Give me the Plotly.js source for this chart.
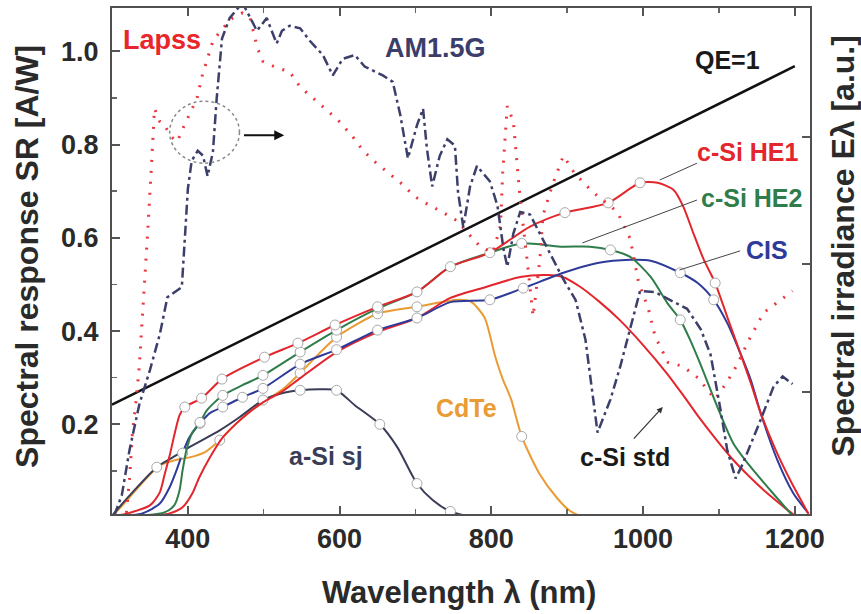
<!DOCTYPE html>
<html><head><meta charset="utf-8">
<script src="https://cdn.plot.ly/plotly-3.0.1.min.js"></script>
<style>html,body{margin:0;padding:0;background:#fff}#chart{width:861px;height:614px}</style>
</head><body><div id="chart"></div>
<script>
// ---- AM1.5G spectrum (a.u., right axis)
const amX = [303,313,323,336,350,363,373,392,396,400,405,413,420,426,433,438,445,455,472,482,491,504,517,524,534,548,561,578,591,604,620,633,657,670,680,690,702,710,715,722,732,742,752,756,763,772,781,798,808,816,821,829,838,851,864,878,895,911,924,940,957,970,983,996,1016,1036,1058,1076,1089,1102,1111,1122,1131,1155,1172,1184,1197];
const amY = [0.03,0.19,0.54,0.90,1.17,1.45,1.74,1.82,2.20,2.59,2.81,2.89,2.85,2.69,2.88,3.30,3.77,3.93,4.05,3.93,3.83,3.93,3.73,3.83,3.87,3.85,3.75,3.64,3.48,3.61,3.64,3.55,3.48,3.43,3.17,2.83,3.09,3.22,2.91,2.61,2.85,2.98,2.93,2.57,2.29,2.61,2.77,2.65,2.46,2.12,1.98,2.24,2.41,2.39,2.24,2.08,1.88,1.72,1.41,0.68,0.94,1.20,1.49,1.79,1.78,1.72,1.65,1.49,1.29,0.86,0.54,0.32,0.43,0.78,1.04,1.12,1.06];
// ---- Lapss spectrum (a.u., right axis)
const lapX = [319,323,327,332,336,340,343,347,352,356,363,369,376,386,393,402,412,419,426,433,446,459,472,482,492,499,517,534,548,563,581,598,616,631,647,664,682,699,716,735,755,768,785,802,812,815,821,829,833,838,847,855,864,868,881,895,910,933,966,983,994,1007,1016,1033,1052,1072,1095,1111,1124,1138,1159,1179,1197];
const lapY = [0.05,0.31,0.68,0.94,1.20,1.57,1.80,2.25,2.77,3.22,3.12,3.10,3.01,2.96,3.06,3.17,3.30,3.48,3.61,3.75,3.85,3.93,3.97,3.93,3.69,3.59,3.54,3.51,3.39,3.31,3.22,3.13,3.01,2.89,2.80,2.72,2.63,2.53,2.47,2.41,2.34,2.25,2.14,2.09,2.30,2.72,3.24,3.12,2.83,2.51,2.04,1.59,2.04,2.38,2.63,2.85,2.71,2.57,2.41,2.20,1.86,1.65,1.43,1.23,1.20,1.11,0.94,1.08,1.21,1.39,1.62,1.71,1.79];
// ---- QE = 1 line
const qeX = [300, 1200];
const qeY = [0.242, 0.968];
// ---- c-Si HE1
const he1X = [300,323,350,363,369,376,383,389,396,418,445,501,545,594,650,702,746,798,851,897,954,996,1019,1040,1053,1066,1080,1095,1111,1128,1142,1155,1175,1194,1218];
const he1Y = [0.002,0.010,0.026,0.054,0.090,0.133,0.183,0.219,0.237,0.256,0.297,0.344,0.374,0.413,0.452,0.484,0.538,0.568,0.624,0.654,0.675,0.718,0.718,0.703,0.667,0.611,0.553,0.503,0.430,0.353,0.288,0.224,0.144,0.080,0.008];
const he1C = [0,0,0,0,0,0,0,0,1,1,1,1,1,1,1,1,1,1,0,1,1,1,0,0,0,0,0,1,0,0,0,0,0,0,0];
// ---- c-Si HE2
const he2X = [300,336,369,382,389,393,398,406,416,425,446,472,499,548,596,651,702,746,798,840,891,930,957,983,1010,1032,1049,1062,1075,1098,1119,1142,1168,1197];
const he2Y = [0.002,0.004,0.011,0.026,0.058,0.101,0.144,0.183,0.204,0.230,0.262,0.284,0.305,0.355,0.402,0.449,0.484,0.538,0.568,0.588,0.581,0.581,0.574,0.559,0.516,0.460,0.424,0.381,0.331,0.237,0.159,0.108,0.058,0.004];
const he2C = [0,0,0,0,0,0,0,0,1,0,1,0,1,1,1,1,0,0,0,1,0,0,1,0,0,0,1,0,0,0,0,0,0,0];
// ---- CIS
const cisX = [300,340,363,376,385,393,402,416,429,446,472,499,548,596,650,702,746,798,842,895,940,983,1010,1049,1072,1093,1111,1128,1142,1155,1177,1198,1218];
const cisY = [0.002,0.009,0.030,0.065,0.101,0.138,0.172,0.202,0.224,0.237,0.258,0.277,0.329,0.360,0.402,0.428,0.462,0.467,0.492,0.525,0.546,0.553,0.551,0.525,0.503,0.467,0.417,0.353,0.295,0.224,0.123,0.052,0.009];
const cisC = [0,0,0,0,0,1,0,1,0,1,1,1,1,1,1,1,0,1,1,0,0,0,0,1,0,1,0,0,0,0,0,0,0];
// ---- c-Si std
const stdX = [300,349,376,393,406,415,429,446,464,481,499,525,548,596,650,702,746,794,838,874,894,917,943,969,1000,1031,1053,1075,1097,1118,1140,1163,1189,1200];
const stdY = [0.002,0.004,0.009,0.022,0.052,0.086,0.129,0.172,0.202,0.226,0.247,0.271,0.299,0.355,0.398,0.428,0.471,0.495,0.516,0.520,0.516,0.495,0.462,0.424,0.370,0.310,0.262,0.212,0.166,0.125,0.088,0.053,0.018,0.004];
// ---- CdTe
const cdX = [300,323,343,363,383,402,422,442,464,481,499,525,548,572,596,650,702,756,773,791,805,815,826,840,863,886,903,916];
const cdY = [0.002,0.043,0.080,0.112,0.123,0.129,0.140,0.166,0.202,0.226,0.247,0.275,0.310,0.350,0.387,0.437,0.452,0.467,0.463,0.429,0.346,0.297,0.254,0.174,0.095,0.043,0.015,0.004];
const cdC = [0,0,0,0,0,0,0,1,0,0,0,0,1,0,1,1,1,0,0,0,0,0,0,1,0,0,0,0];
// ---- a-Si sj
const asiX = [300,323,359,380,402,442,468,499,525,548,574,596,620,653,676,702,723,746,772];
const asiY = [0.004,0.047,0.108,0.129,0.151,0.187,0.215,0.252,0.267,0.273,0.275,0.273,0.241,0.200,0.151,0.073,0.037,0.013,0.002];
const asiC = [0,0,1,0,0,0,0,1,0,1,0,1,0,1,0,1,0,1,0];

const xTicks = [400,600,800,1000,1200];
const yTicks = [0.2,0.4,0.6,0.8,1.0];
const y2Ticks = [1,2,3];

const F = 'Liberation Sans, Arial, sans-serif';
const circ = (flags) => ({symbol:'circle', size:10, color:'#ffffff', line:{color:'#a8a8a8', width:1}, opacity: flags});
const traces = [
  {x:qeX, y:qeY, mode:'lines', line:{color:'#111111', width:2.5}},
  {x:cdX, y:cdY, mode:'lines+markers', line:{color:'#e99b34', width:2, shape:'spline', smoothing:0.7}, marker:circ(cdC)},
  {x:asiX, y:asiY, mode:'lines+markers', line:{color:'#3a3d57', width:2, shape:'spline', smoothing:0.7}, marker:circ(asiC)},
  {x:stdX, y:stdY, mode:'lines', line:{color:'#e3262d', width:2, shape:'spline', smoothing:0.7}},
  {x:cisX, y:cisY, mode:'lines+markers', line:{color:'#2e3a9a', width:2, shape:'spline', smoothing:0.7}, marker:circ(cisC)},
  {x:he2X, y:he2Y, mode:'lines+markers', line:{color:'#2f7d4a', width:2, shape:'spline', smoothing:0.7}, marker:circ(he2C)},
  {x:he1X, y:he1Y, mode:'lines+markers', line:{color:'#e3262d', width:2, shape:'spline', smoothing:0.7}, marker:circ(he1C)},
  {x:lapX, y:lapY, yaxis:'y2', mode:'lines', line:{color:'#e8363c', width:3, dash:'2px,9px'}},
  {x:amX, y:amY, yaxis:'y2', mode:'lines', line:{color:'#3c3f6a', width:2.5, dash:'10px,4px,3px,4px'}}
];

const ann = (t, x, y, c, s) => ({text:t, x:x, y:y, xref:'x', yref:'y', xanchor:'center', yanchor:'middle', showarrow:false, font:{family:F, size:s||25, color:c, weight:'bold'}});
const layout = {
  width:861, height:614, margin:{l:112, r:51, t:8, b:100},
  paper_bgcolor:'#ffffff', plot_bgcolor:'#ffffff', showlegend:false,
  font:{family:F, color:'#2a2a2a'},
  xaxis:{range:[300,1220], tickvals:xTicks, ticks:'inside', ticklen:8, tickwidth:2, tickcolor:'#555',
         minor:{dtick:100, tick0:300, ticks:'inside', ticklen:5, tickwidth:1.5, tickcolor:'#666'},
         showline:true, linecolor:'#505050', linewidth:2, mirror:'ticks', showgrid:false, zeroline:false,
         tickfont:{family:F, size:27, color:'#2a2a2a', weight:'bold'}, ticklabelstandoff:0},
  yaxis:{range:[0.0076,1.0929], tickvals:yTicks, tickformat:'.1f', ticks:'inside', ticklen:8, tickwidth:2, tickcolor:'#555',
         minor:{dtick:0.1, tick0:0, ticks:'inside', ticklen:5, tickwidth:1.5, tickcolor:'#666'},
         showline:true, linecolor:'#505050', linewidth:2, showgrid:false, zeroline:false,
         tickfont:{family:F, size:27, color:'#2a2a2a', weight:'bold'}, ticklabelstandoff:6},
  yaxis2:{overlaying:'y', side:'right', range:[0.041,4.009], tickvals:y2Ticks, ticks:'inside', ticklen:8, tickwidth:2, tickcolor:'#555',
          showticklabels:false, showline:true, linecolor:'#505050', linewidth:2, showgrid:false, zeroline:false},
  annotations:[
    ann('Lapss', 366, 1.024, '#e8262b', 27),
    ann('AM1.5G', 727, 1.007, '#3b3e6b', 27),
    ann('QE=1', 1111, 0.981, '#1a1a1a'),
    ann('c-Si HE1', 1138, 0.784, '#e3262d'),
    ann('c-Si HE2', 1143, 0.685, '#2f7d4a'),
    ann('CIS', 1163, 0.574, '#2e3a9a'),
    ann('a-Si sj', 582, 0.132, '#3a3d57'),
    ann('CdTe', 767, 0.235, '#e99b34'),
    ann('c-Si std', 976, 0.130, '#1a1a1a'),
    {text:'', x:1026, y:0.237, ax:986, ay:0.166, axref:'x', ayref:'y', xref:'x', yref:'y', showarrow:true, arrowhead:2, arrowsize:1, arrowwidth:1.2, arrowcolor:'#333'},
    {text:'', x:527, y:0.820, ax:472, ay:0.820, axref:'x', ayref:'y', xref:'x', yref:'y', showarrow:true, arrowhead:2, arrowsize:1, arrowwidth:2, arrowcolor:'#111'},
    {text:'Wavelength λ (nm)', x:0.497, y:-0.155, xref:'paper', yref:'paper', xanchor:'center', yanchor:'middle', showarrow:false, font:{family:F, size:31, color:'#2a2a2a', weight:'bold'}},
    {text:'Spectral response SR [A/W]', x:-0.1218, y:0.51, xref:'paper', yref:'paper', xanchor:'center', yanchor:'middle', showarrow:false, textangle:-90, font:{family:F, size:32, color:'#2a2a2a', weight:'bold'}},
    {text:'Spectral irradiance Eλ [a.u.]', x:1.047, y:0.53, xref:'paper', yref:'paper', xanchor:'center', yanchor:'middle', showarrow:false, textangle:-90, font:{family:F, size:32, color:'#2a2a2a', weight:'bold'}}
  ],
  shapes:[
    {type:'line', xref:'x', yref:'y', x0:1071, y0:0.760, x1:1022, y1:0.724, line:{color:'#444', width:1}},
    {type:'line', xref:'x', yref:'y', x0:1071, y0:0.681, x1:920, y1:0.589, line:{color:'#444', width:1}},
    {type:'line', xref:'x', yref:'y', x0:1128, y0:0.572, x1:1048, y1:0.531, line:{color:'#444', width:1}},
    {type:'circle', xref:'x', yref:'y', x0:376, x1:468, y0:0.760, y1:0.893, line:{color:'#888', width:1.5, dash:'dot'}}
  ]
};
Plotly.newPlot('chart', traces, layout, {displayModeBar:false, staticPlot:true});
</script></body></html>
